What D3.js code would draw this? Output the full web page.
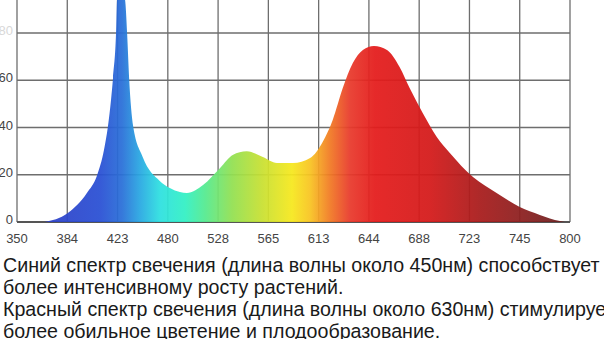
<!DOCTYPE html>
<html lang="en">
<head>
    <script src="https://d3js.org/d3.v7.min.js"></script>
</head>
<style>
    body { margin: 0; background: #fff; }
</style>
<body>
<script>
    const w = 604
    const h = 339

    // tick labels along the bottom (wavelength, nm) - evenly spaced on the picture
    const xTicks = ["350", "384", "423", "480", "528", "565", "613", "644", "688", "723", "745", "800"]
    const yTicks = [0, 20, 40, 60, 80]

    // spectrum outline: position in tick steps, relative intensity
    const curvePos = [0.54, 1.01, 1.39, 1.59, 1.73, 1.81, 1.87, 1.91, 1.97, 1.99, 2.07, 2.15, 2.19, 2.23, 2.31, 2.50,
                      2.84, 3.04, 3.24, 3.38, 3.70, 4.04, 4.29, 4.57, 4.89, 5.17, 5.49, 5.83, 6.08, 6.28, 6.48, 6.68,
                      6.88, 7.10, 7.36, 7.61, 7.81, 8.07, 8.35, 8.61, 9.07, 9.54, 10.0, 10.4, 10.8, 10.9]
    const curveVal = [0, 3.8, 12.3, 19.6, 30.5, 40.6, 51.6, 61, 80, 94, 100, 94, 80, 61, 40.6, 27.5,
                      17.4, 14.4, 12.7, 12.3, 15.7, 22.9, 28.4, 30, 27.5, 25, 25, 27.1, 33.9, 43.2, 56.7, 67.3,
                      72.8, 74.5, 72.8, 65.6, 56.7, 46.1, 36, 29.2, 19, 12.3, 6.3, 3, 0.4, 0]

    const caption = [
        "Синий спектр свечения (длина волны около 450нм) способствует",
        "более интенсивному росту растений.",
        "Красный спектр свечения (длина волны около 630нм) стимулирует",
        "более обильное цветение и плодообразование."
    ]

    let svg = d3.select("body")
        .append("svg")
        .attr("width", w)
        .attr("height", h)

    svg.append("rect").attr("width", w).attr("height", h).attr("fill", "#fff")

    // tick labels sit on a point scale, the curve on a linear scale in tick steps
    let xBand = d3.scalePoint().domain(xTicks).range([17, 570])
    let xScale = d3.scaleLinear().domain([0, xTicks.length - 1]).range([17, 570])
    let yScale = d3.scaleLinear().domain([0, 80]).range([222, 33])

    // spectrum gradient
    let grad = svg.append("defs").append("linearGradient")
        .attr("id", "spec")
        .attr("gradientUnits", "userSpaceOnUse")
        .attr("x1", 40).attr("x2", 565).attr("y1", 0).attr("y2", 0)
    const stops = [[40, "#2f3fc6"], [100, "#2a50d4"], [122, "#2a70d8"], [140, "#29a8e2"], [160, "#2ee0e0"],
                   [185, "#33f0c4"], [205, "#55ea90"], [232, "#92e052"], [262, "#c8e032"], [292, "#f6e81e"],
                   [310, "#f8c422"], [330, "#f17a24"], [350, "#e83a2c"], [375, "#e41c1c"], [430, "#d41a1a"],
                   [480, "#a81c1c"], [525, "#8a2020"], [565, "#6a2222"]]
    grad.selectAll("stop")
        .data(stops)
        .enter()
        .append("stop")
        .attr("offset", d => (d[0] - 40) / (565 - 40))
        .attr("stop-color", d => d[1])

    // grid
    svg.append("g")
        .selectAll("line")
        .data(xTicks)
        .enter()
        .append("line")
        .attr("x1", d => xBand(d)).attr("x2", d => xBand(d))
        .attr("y1", 0).attr("y2", yScale(0))
        .attr("stroke", "#6e6e6e")
        .attr("stroke-width", 1.3)

    svg.append("g")
        .selectAll("line")
        .data(yTicks)
        .enter()
        .append("line")
        .attr("x1", xBand(xTicks[0])).attr("x2", xBand(xTicks[xTicks.length - 1]))
        .attr("y1", d => yScale(d)).attr("y2", d => yScale(d))
        .attr("stroke", d => d == 0 ? "#555" : "#6e6e6e")
        .attr("stroke-width", d => d == 0 ? 1.8 : 1.3)

    // the spectrum itself
    let pts = curvePos.map((p, i) => [p, curveVal[i]])
    let area = d3.area()
        .x(d => xScale(d[0]))
        .y0(yScale(0))
        .y1(d => yScale(d[1]))
        .curve(d3.curveMonotoneX)

    svg.append("path")
        .datum(pts)
        .attr("d", area)
        .attr("fill", "url(#spec)")
        .attr("fill-opacity", 0.94)

    // axes labels
    svg.append("g")
        .selectAll("text")
        .data(xTicks)
        .enter()
        .append("text")
        .attr("x", d => xBand(d))
        .attr("y", 243)
        .attr("text-anchor", "middle")
        .attr("font-family", "Liberation Sans, Arial, sans-serif")
        .attr("font-size", "13px")
        .attr("fill", "#444")
        .text(d => d)

    svg.append("g")
        .selectAll("text")
        .data(yTicks)
        .enter()
        .append("text")
        .attr("x", 13)
        .attr("y", d => yScale(d) + 2)
        .attr("text-anchor", "end")
        .attr("font-family", "Liberation Sans, Arial, sans-serif")
        .attr("font-size", "13px")
        .attr("fill", d => d == 80 ? "#d8d8d8" : "#444")
        .text(d => d)

    // caption under the chart
    let cap = svg.append("g")
        .selectAll("text")
        .data(caption)
        .enter()
        .append("text")
        .attr("x", 3)
        .attr("y", (d, i) => 272 + i * 22)
        .attr("font-family", "Liberation Sans, Arial, sans-serif")
        .attr("font-size", "18px")
        .attr("fill", "#1a1a1a")
        .text(d => d)

    // stretch the font so the first line spans the width like the picture
    let first = cap.nodes()[0].getComputedTextLength()
    let fs = 18 * 597 / first
    cap.attr("font-size", fs + "px")
</script>
</body>
</html>
